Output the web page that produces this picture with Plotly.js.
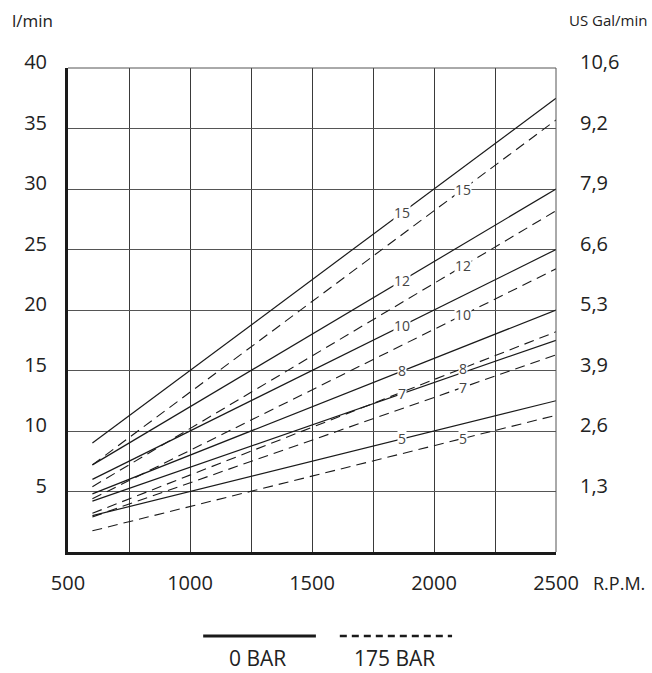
<!DOCTYPE html>
<html>
<head>
<meta charset="utf-8">
<script src="https://cdn.plot.ly/plotly-3.0.1.min.js"></script>
<style>html,body{margin:0;padding:0;background:#fff;}#chart{width:652px;height:673px;}</style>
</head>
<body>
<div id="chart"></div>
<script>
// ---- data ----
const rpm = [600, 2500];
const displacements = ['15', '12', '10', '8', '7', '5'];
const flow0bar_15 = [9.0, 37.5];
const flow0bar_12 = [7.2, 30.0];
const flow0bar_10 = [6.0, 25.0];
const flow0bar_8  = [4.8, 20.0];
const flow0bar_7  = [4.2, 17.5];
const flow0bar_5  = [3.0, 12.5];
const flow175bar_15 = [7.2, 35.7];
const flow175bar_12 = [5.4, 28.2];
const flow175bar_10 = [4.4, 23.4];
const flow175bar_8  = [3.2, 18.2];
const flow175bar_7  = [2.9, 16.3];
const flow175bar_5  = [1.75, 11.3];
const xTickVals = [500, 1000, 1500, 2000, 2500];
const yTickVals = [5, 10, 15, 20, 25, 30, 35, 40];
const yTickLeft = ['5', '10', '15', '20', '25', '30', '35', '40'];
const yTickRight = ['1,3', '2,6', '3,9', '5,3', '6,6', '7,9', '9,2', '10,6'];
const labelRpm0 = 1870, labelRpm175 = 2120;

const solid = [flow0bar_15, flow0bar_12, flow0bar_10, flow0bar_8, flow0bar_7, flow0bar_5];
const dashed = [flow175bar_15, flow175bar_12, flow175bar_10, flow175bar_8, flow175bar_7, flow175bar_5];

const FONT = 'Open Sans, sans-serif';
const traces = [];
solid.forEach((v) => traces.push({x: rpm, y: v, type: 'scatter', mode: 'lines',
  line: {color: '#1a1a1a', width: 1.2}, hoverinfo: 'skip', showlegend: false}));
dashed.forEach((v) => traces.push({x: rpm, y: v, type: 'scatter', mode: 'lines',
  line: {color: '#1a1a1a', width: 1.1, dash: '10px,6px'}, hoverinfo: 'skip', showlegend: false}));
// invisible trace to activate the right-hand axis
traces.push({x: [rpm[0]], y: [0], yaxis: 'y2', mode: 'markers', marker: {opacity: 0}, hoverinfo: 'skip', showlegend: false});

function interp(arr, x) { return arr[0] + (arr[1] - arr[0]) * (x - rpm[0]) / (rpm[1] - rpm[0]); }

const ann = [];
solid.forEach((v, i) => ann.push({x: labelRpm0, y: interp(v, labelRpm0), xref: 'x', yref: 'y', text: displacements[i],
  showarrow: false, bgcolor: '#fff', borderpad: 0, font: {family: FONT, size: 14, color: '#444'}}));
dashed.forEach((v, i) => ann.push({x: labelRpm175, y: interp(v, labelRpm175), xref: 'x', yref: 'y', text: displacements[i],
  showarrow: false, bgcolor: '#fff', borderpad: 0, font: {family: FONT, size: 14, color: '#444'}}));
ann.push({xref: 'paper', yref: 'paper', x: 0, xshift: -58, y: 1.0, yshift: 48, xanchor: 'left', yanchor: 'middle', text: 'l/min', showarrow: false, font: {family: FONT, size: 17, color: '#222'}});
ann.push({xref: 'paper', yref: 'paper', x: 1.0, xshift: 93, y: 1.0, yshift: 48, xanchor: 'right', yanchor: 'middle', text: 'US Gal/min', showarrow: false, font: {family: FONT, size: 15, color: '#222'}});
ann.push({xref: 'paper', yref: 'paper', x: 1.0, xshift: 35, y: 0, yshift: -31, xanchor: 'left', yanchor: 'middle', text: 'R.P.M.', showarrow: false, font: {family: FONT, size: 18, color: '#222'}});
ann.push({xref: 'paper', yref: 'paper', x: 0.389, y: 0, yshift: -106, xanchor: 'center', yanchor: 'middle', text: '0 BAR', showarrow: false, font: {family: FONT, size: 21, color: '#222'}});
ann.push({xref: 'paper', yref: 'paper', x: 0.670, y: 0, yshift: -106, xanchor: 'center', yanchor: 'middle', text: '175 BAR', showarrow: false, font: {family: FONT, size: 21, color: '#222'}});

const layout = {
  width: 652, height: 673,
  margin: {l: 68, r: 96, t: 68, b: 121},
  paper_bgcolor: '#fff', plot_bgcolor: '#fff',
  font: {family: FONT, size: 20, color: '#222'},
  showlegend: false,
  xaxis: {range: [500, 2500], tickvals: xTickVals, ticks: '', ticklabelstandoff: 11,
    showgrid: true, gridcolor: '#3a3a3a', gridwidth: 1,
    minor: {dtick: 250, tick0: 500, showgrid: true, gridcolor: '#3a3a3a', gridwidth: 1},
    showline: true, linecolor: '#1a1a1a', linewidth: 3, zeroline: false, fixedrange: true},
  yaxis: {range: [0, 40], tickvals: yTickVals, ticktext: yTickLeft, ticks: '', ticklabelstandoff: 14, ticklabelshift: -6,
    showgrid: true, gridcolor: '#555', gridwidth: 1,
    showline: true, linecolor: '#1a1a1a', linewidth: 3, zeroline: false, fixedrange: true},
  yaxis2: {range: [0, 40], overlaying: 'y', side: 'right', tickvals: yTickVals, ticktext: yTickRight, ticks: '',
    ticklabelstandoff: 23, ticklabelshift: -6, showgrid: false, zeroline: false, showline: false, fixedrange: true},
  shapes: [
    {type: 'line', xref: 'paper', yref: 'paper', x0: 0, x1: 1, y0: 1, y1: 1, line: {color: '#555', width: 1}},
    {type: 'line', xref: 'paper', yref: 'paper', x0: 1, x1: 1, y0: 0, y1: 1, line: {color: '#555', width: 1}},
    {type: 'line', xref: 'paper', yref: 'paper', x0: 0.277, x1: 0.508, ysizemode: 'pixel', yanchor: 0, y0: -84, y1: -84,
      line: {color: '#1a1a1a', width: 3}},
    {type: 'line', xref: 'paper', yref: 'paper', x0: 0.557, x1: 0.787, ysizemode: 'pixel', yanchor: 0, y0: -84, y1: -84,
      line: {color: '#1a1a1a', width: 2.5, dash: '7px,5px'}}
  ],
  annotations: ann
};

Plotly.newPlot('chart', traces, layout, {displayModeBar: false, staticPlot: true});
</script>
</body>
</html>
